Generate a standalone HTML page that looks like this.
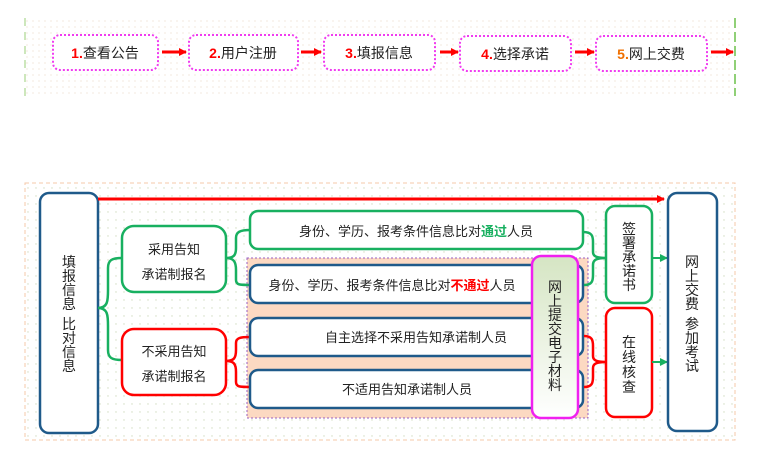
<!DOCTYPE html>
<html><head><meta charset="utf-8">
<style>
html,body{margin:0;padding:0;background:#fff;}
svg{display:block;}
text{font-family:"Liberation Sans","Noto Sans CJK SC",sans-serif;fill:#222;}
</style></head><body>
<svg width="763" height="457" viewBox="0 0 763 457" xmlns="http://www.w3.org/2000/svg">
<defs>
<pattern id="dots" width="6" height="6" patternUnits="userSpaceOnUse"><circle cx="3" cy="3" r="0.6" fill="#e9d9c8"/></pattern>
<pattern id="dots2" width="8" height="8" patternUnits="userSpaceOnUse"><circle cx="4" cy="4" r="0.7" fill="#d0dcc0"/></pattern>
<linearGradient id="mg" x1="0" y1="0" x2="0" y2="1"><stop offset="0" stop-color="#d5e5c3"/><stop offset="1" stop-color="#ffffff"/></linearGradient>
<marker id="ar" markerWidth="8" markerHeight="8" refX="7" refY="4" orient="auto" markerUnits="userSpaceOnUse"><path d="M0,0 L8,4 L0,8 z" fill="#f00"/></marker>
<marker id="ag" markerWidth="8" markerHeight="8" refX="7" refY="4" orient="auto" markerUnits="userSpaceOnUse"><path d="M0,0 L8,4 L0,8 z" fill="#18b060"/></marker>
</defs>
<rect x="25" y="18" width="710" height="78" fill="url(#dots)"/>
<line x1="25" y1="18" x2="25" y2="96" stroke="#9bcf7a" stroke-width="1" stroke-dasharray="8,6"/>
<line x1="735" y1="18" x2="735" y2="96" stroke="#6cc04a" stroke-width="1.5" stroke-dasharray="10,4"/>
<g font-size="14">
<rect x="53" y="35" width="105" height="35" rx="7" fill="#fff" stroke="#f03cf0" stroke-width="2" stroke-dasharray="2,2"/>
<text x="105" y="58" text-anchor="middle"><tspan fill="#f00" font-weight="bold">1.</tspan>查看公告</text>
<rect x="189" y="35" width="109" height="35" rx="7" fill="#fff" stroke="#f03cf0" stroke-width="2" stroke-dasharray="2,2"/>
<text x="243" y="58" text-anchor="middle"><tspan fill="#f00" font-weight="bold">2.</tspan>用户注册</text>
<rect x="324" y="35" width="111" height="35" rx="7" fill="#fff" stroke="#f03cf0" stroke-width="2" stroke-dasharray="2,2"/>
<text x="379" y="58" text-anchor="middle"><tspan fill="#f00" font-weight="bold">3.</tspan>填报信息</text>
<rect x="460" y="36" width="111" height="35" rx="7" fill="#fff" stroke="#f03cf0" stroke-width="2" stroke-dasharray="2,2"/>
<text x="515" y="59" text-anchor="middle"><tspan fill="#f00" font-weight="bold">4.</tspan>选择承诺</text>
<rect x="596" y="36" width="111" height="35" rx="7" fill="#fff" stroke="#f03cf0" stroke-width="2" stroke-dasharray="2,2"/>
<text x="651" y="59" text-anchor="middle"><tspan fill="#f07000" font-weight="bold">5.</tspan>网上交费</text>
</g>
<g stroke="#f00" stroke-width="3" marker-end="url(#ar)">
<line x1="162" y1="52" x2="186" y2="52"/>
<line x1="301" y1="52" x2="321" y2="52"/>
<line x1="440" y1="52" x2="458" y2="52"/>
<line x1="575" y1="52" x2="594" y2="52"/>
<line x1="711" y1="52" x2="733" y2="52"/>
</g>
<rect x="25" y="183" width="710" height="257" fill="url(#dots2)" stroke="#f5c8a8" stroke-width="1" stroke-dasharray="4,3"/>
<rect x="247" y="258" width="341" height="160" fill="#fcd9c2" stroke="#9a5fc0" stroke-width="1" stroke-dasharray="2,2"/>
<rect x="40" y="193" width="58" height="240" rx="9" fill="#fff" stroke="#1f5a8a" stroke-width="2.5"/>
<g font-size="14" text-anchor="middle">
<text x="69" y="267">填</text><text x="69" y="281">报</text><text x="69" y="295">信</text><text x="69" y="309">息</text>
<text x="69" y="329">比</text><text x="69" y="343">对</text><text x="69" y="357">信</text><text x="69" y="371">息</text>
</g>
<line x1="98" y1="199" x2="664" y2="199" stroke="#f00" stroke-width="3" marker-end="url(#ar)"/>
<path d="M98,308 C108,308 108,300 108,290 L108,268 C108,260 112,258 122,258 M98,308 C108,308 108,316 108,326 L108,350 C108,358 112,360 122,360" fill="none" stroke="#18b060" stroke-width="2.5"/>
<rect x="122" y="226" width="104" height="66" rx="12" fill="#fff" stroke="#18b060" stroke-width="2.5"/>
<text x="174" y="254" font-size="13" text-anchor="middle">采用告知</text>
<text x="174" y="279" font-size="13" text-anchor="middle">承诺制报名</text>
<rect x="122" y="329" width="104" height="66" rx="12" fill="#fff" stroke="#f00" stroke-width="2.5"/>
<text x="174" y="356" font-size="13" text-anchor="middle">不采用告知</text>
<text x="174" y="381" font-size="13" text-anchor="middle">承诺制报名</text>
<path d="M226,258 C234,258 236,255 236,248 L236,238 C236,232 240,230 250,230 M226,258 C234,258 236,262 236,270 L236,280 C236,285 240,285 250,285" fill="none" stroke="#18b060" stroke-width="2.5"/>
<path d="M226,361 C234,361 236,358 236,350 L236,343 C236,338 240,337 250,337 M226,361 C234,361 236,364 236,372 L236,382 C236,387 240,387 250,387" fill="none" stroke="#f00" stroke-width="2.5"/>
<rect x="250" y="211" width="333" height="38" rx="8" fill="#fff" stroke="#18b060" stroke-width="2.5"/>
<text x="416" y="236" font-size="13" text-anchor="middle">身份、学历、报考条件信息比对<tspan fill="#18b060" font-weight="bold">通过</tspan>人员</text>
<rect x="250" y="265" width="333" height="38" rx="8" fill="#fff" stroke="#1f5a8a" stroke-width="2.5"/>
<text x="392" y="290" font-size="13" text-anchor="middle">身份、学历、报考条件信息比对<tspan fill="#f00" font-weight="bold">不通过</tspan>人员</text>
<rect x="250" y="318" width="333" height="38" rx="8" fill="#fff" stroke="#1f5a8a" stroke-width="2.5"/>
<text x="416" y="342" font-size="13" text-anchor="middle">自主选择不采用告知承诺制人员</text>
<rect x="250" y="370" width="333" height="38" rx="8" fill="#fff" stroke="#1f5a8a" stroke-width="2.5"/>
<text x="407" y="394" font-size="13" text-anchor="middle">不适用告知承诺制人员</text>
<rect x="532" y="256" width="46" height="162" rx="9" fill="url(#mg)" stroke="#f020f0" stroke-width="2.5"/>
<g font-size="14" text-anchor="middle">
<text x="555" y="292">网</text><text x="555" y="306">上</text><text x="555" y="320">提</text><text x="555" y="334">交</text><text x="555" y="348">电</text><text x="555" y="362">子</text><text x="555" y="376">材</text><text x="555" y="390">料</text>
</g>
<path d="M583,232 C592,232 593,236 593,242 L593,252 C593,256 596,258 606,258 M584,285 C592,285 593,281 593,275 L593,265 C593,260 596,258 606,258" fill="none" stroke="#18b060" stroke-width="2.5"/>
<path d="M584,336 C592,336 593,340 593,346 L593,356 C593,360 596,362 606,362 M584,387 C592,387 593,383 593,377 L593,368 C593,364 596,362 606,362" fill="none" stroke="#f00" stroke-width="2.5"/>
<rect x="606" y="206" width="46" height="97" rx="9" fill="#fff" stroke="#18b060" stroke-width="2.5"/>
<g font-size="14" text-anchor="middle">
<text x="629" y="234">签</text><text x="629" y="248">署</text><text x="629" y="262">承</text><text x="629" y="276">诺</text><text x="629" y="290">书</text>
</g>
<rect x="606" y="308" width="46" height="109" rx="9" fill="#fff" stroke="#f00" stroke-width="2.5"/>
<g font-size="14" text-anchor="middle">
<text x="629" y="347">在</text><text x="629" y="362">线</text><text x="629" y="377">核</text><text x="629" y="392">查</text>
</g>
<line x1="652" y1="258" x2="667" y2="258" stroke="#18b060" stroke-width="2" marker-end="url(#ag)"/>
<line x1="652" y1="362" x2="667" y2="362" stroke="#18b060" stroke-width="2" marker-end="url(#ag)"/>
<rect x="668" y="193" width="49" height="238" rx="9" fill="#fff" stroke="#1f5a8a" stroke-width="2.5"/>
<g font-size="14" text-anchor="middle">
<text x="692" y="267">网</text><text x="692" y="281">上</text><text x="692" y="295">交</text><text x="692" y="309">费</text>
<text x="692" y="329">参</text><text x="692" y="343">加</text><text x="692" y="357">考</text><text x="692" y="371">试</text>
</g>
</svg>
</body></html>
